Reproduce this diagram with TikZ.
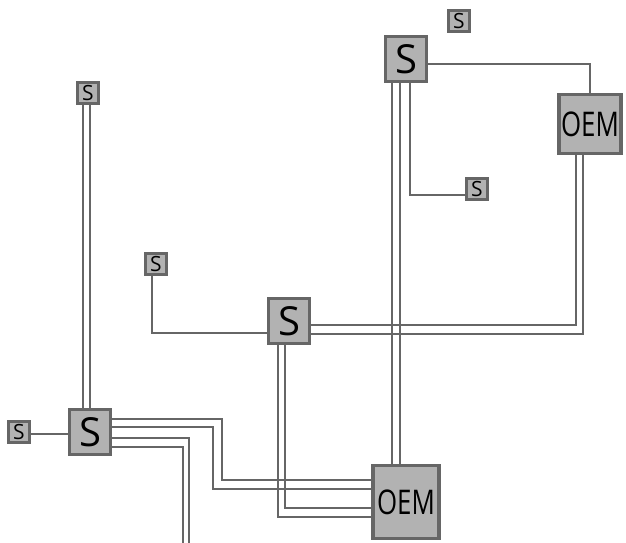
\documentclass[tikz,border=0pt]{standalone}
\usepackage{fontspec}
\setmainfont{Open Sans}
\begin{document}
\begin{tikzpicture}[x=1pt,y=-1pt,
  box/.style={draw=black!60,line width=3.5pt,fill=black!30,inner sep=0pt,text=black},
  smalls/.style={box,minimum width=21pt,minimum height=21pt,font=\fontsize{21}{21}\selectfont},
  bigs/.style={box,minimum width=41pt,minimum height=45pt,font=\fontsize{40}{40}\selectfont},
  oem/.style={box,font=\fontsize{34}{34}\selectfont},
  wire/.style={draw=black!60,line width=1.5pt}]
\useasboundingbox (0,0) rectangle (626,543);
% small S
\node[smalls] (s1) at (88,93) {S};
\node[smalls] (s2) at (156,264) {S};
\node[smalls] (s3) at (459,21) {S};
\node[smalls] (s4) at (477,189) {S};
\node[smalls] (s5) at (19,432) {S};
% big S
\node[bigs] (S1) at (406,59) {S};
\node[bigs] (S2) at (289,321) {S};
\node[bigs] (S3) at (90,432) {S};
% OEM
\node[oem,minimum width=62pt,minimum height=59pt] (O1) at (590,124) {\scalebox{0.76}[1]{OEM}};
\node[oem,minimum width=66pt,minimum height=73pt] (O2) at (406,502) {\scalebox{0.76}[1]{OEM}};
% free ends
\coordinate (k1) at (222,480);
\coordinate (k2) at (213,489);
\coordinate (k3) at (189,543);
\coordinate (k4) at (183,543);
% wires from S1
\draw[wire] ([yshift=-5pt]S1.east) -| (O1.north);
\draw[wire] ([xshift=-14pt]S1.south) -- ([xshift=-14pt]O2.north);
\draw[wire] ([xshift=-6pt]S1.south) -- ([xshift=-6pt]O2.north);
\draw[wire] ([xshift=4pt]S1.south) |- ([yshift=-6pt]s4.west);
% wires from S2
\draw[wire] ([xshift=-4pt]s2.south) |- ([yshift=-12pt]S2.west);
\draw[wire] ([yshift=-4pt]S2.east) -| ([xshift=-14pt]O1.south);
\draw[wire] ([yshift=-13pt]S2.east) -| ([xshift=-7pt]O1.south);
\draw[wire] ([xshift=-11pt]S2.south) |- ([yshift=-15pt]O2.west);
\draw[wire] ([xshift=-4pt]S2.south) |- ([yshift=-6pt]O2.west);
% wires from S3
\draw[wire] ([xshift=-7pt]S3.north) -- ([xshift=-7pt]S3.north |- s1.south);
\draw[wire] (S3.north) -- (S3.north |- s1.south);
\draw[wire] ([yshift=-2pt]s5.east) -- ([yshift=-2pt]s5.east -| S3.west);
\draw[wire] ([yshift=13pt]S3.east) -| (k1) -- (k1 -| O2.west);
\draw[wire] ([yshift=5pt]S3.east) -| (k2) -- (k2 -| O2.west);
\draw[wire] ([yshift=-6pt]S3.east) -| (k3);
\draw[wire] ([yshift=-15pt]S3.east) -| (k4);
\end{tikzpicture}
\end{document}
